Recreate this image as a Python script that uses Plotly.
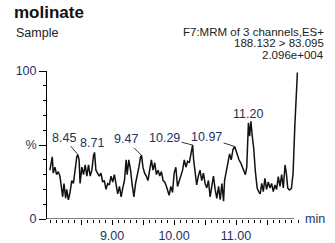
import plotly.graph_objects as go

# ---- data ----
time_min = [7.997, 8.035, 8.051, 8.078, 8.105, 8.132, 8.159, 8.186, 8.203, 8.224,
            8.251, 8.268, 8.295, 8.322, 8.349, 8.376, 8.403, 8.430, 8.447, 8.468,
            8.484, 8.512, 8.539, 8.566, 8.593, 8.620, 8.647, 8.674, 8.701, 8.717,
            8.739, 8.766, 8.793, 8.821, 8.848, 8.875, 8.902, 8.929, 8.956, 8.983,
            9.010, 9.037, 9.064, 9.091, 9.119, 9.146, 9.173, 9.200, 9.227, 9.243,
            9.270, 9.298, 9.325, 9.352, 9.379, 9.406, 9.433, 9.460, 9.476, 9.498,
            9.525, 9.552, 9.579, 9.606, 9.634, 9.661, 9.688, 9.715, 9.742, 9.769,
            9.796, 9.823, 9.850, 9.877, 9.904, 9.921, 9.948, 9.975, 10.002, 10.029,
            10.056, 10.083, 10.111, 10.138, 10.165, 10.192, 10.219, 10.246, 10.273, 10.300,
            10.316, 10.338, 10.365, 10.392, 10.419, 10.447, 10.474, 10.501, 10.528, 10.555,
            10.582, 10.609, 10.636, 10.663, 10.690, 10.718, 10.745, 10.772, 10.799, 10.815,
            10.842, 10.869, 10.896, 10.923, 10.951, 10.978, 10.994, 11.021, 11.048, 11.075,
            11.102, 11.130, 11.151, 11.173, 11.188, 11.200, 11.220, 11.240, 11.262, 11.285,
            11.310, 11.340, 11.365, 11.390, 11.415, 11.440, 11.466, 11.493, 11.520, 11.547,
            11.574, 11.601, 11.628, 11.655, 11.682, 11.709, 11.736, 11.763, 11.791, 11.812,
            11.834, 11.861, 11.894, 11.921, 11.948, 11.970, 11.990]
intensity_pct = [33, 42, 31, 35, 30, 32, 29, 22, 15, 24,
                 14, 20, 13, 18, 26, 24, 33, 42, 43.5, 40,
                 24, 35, 30, 36.5, 29, 36.5, 29, 33, 43, 45,
                 33, 31, 29, 31, 25, 26, 20, 24, 23, 29,
                 25, 30, 24, 17, 22, 15, 21, 26, 40, 30,
                 40, 33, 23, 15, 24, 29, 35, 42, 43, 35,
                 31, 29, 26, 33, 40, 33, 38, 30, 33, 29,
                 32, 26, 25, 22, 18, 16, 22, 18, 31, 35,
                 22, 26, 30, 33, 40, 35, 39, 38, 44, 50,
                 40, 33, 23, 29, 33, 26, 31, 24, 21, 26,
                 15, 22, 29, 20, 14, 22, 13, 24, 12, 26,
                 33, 40, 44, 40, 47, 49, 47, 43, 40, 38,
                 35, 33, 30, 35, 52, 65, 56, 66, 56, 48,
                 33, 21, 18.5, 17, 24, 18.5, 27.5, 20, 25, 21,
                 24, 18.5, 23, 20, 28.6, 22, 30, 21, 36.5, 31,
                 21, 19.6, 20.7, 31, 62, 89, 99]

peak_labels = ["8.45", "8.71", "9.47", "10.29", "10.97", "11.20"]
peak_times = [8.447, 8.717, 9.476, 10.300, 10.978, 11.200]
peak_heights = [43.5, 45, 43, 50, 49, 65]

x_tick_vals = [8.5, 9.0, 9.5, 10.0, 10.5, 11.0, 11.5]
x_tick_text = ["", "9.00", "", "10.00", "", "11.00", ""]
y_tick_vals = [0, 50, 100]
y_tick_text = ["0", "%", "100"]

FONT = "Liberation Sans, Arial, sans-serif"
NAVY = "#1c3263"
DARK = "#222222"

fig = go.Figure()
fig.add_trace(go.Scatter(x=time_min, y=intensity_pct, mode="lines",
                         line=dict(color="#111111", width=1.5),
                         hoverinfo="skip", showlegend=False))

# x-axis line drawn only to 11.94 like the reference
fig.add_shape(type="line", xref="x", yref="y", x0=7.95, x1=11.94, y0=0, y1=0,
              line=dict(color="black", width=1))

# peak annotations
arrow_offsets = {"8.45": (-14, -17), "9.47": (-16, -16),
                 "10.29": (-28, -7), "10.97": (-28, -9)}
for lab, t, h in zip(peak_labels, peak_times, peak_heights):
    if lab in arrow_offsets:
        ax, ay = arrow_offsets[lab]
        fig.add_annotation(x=t, y=h, text=lab, showarrow=True, arrowhead=0,
                           arrowwidth=1, arrowcolor="#333333", ax=ax, ay=ay,
                           standoff=0, font=dict(family=FONT, size=12.5, color=NAVY))
    else:
        fig.add_annotation(x=t, y=h, text=lab, showarrow=False, yanchor="bottom",
                           xshift=-3 if lab == "8.71" else 0, yshift=0,
                           font=dict(family=FONT, size=12.5, color=NAVY))

# header texts
hdr = dict(family=FONT, size=11.5, color=DARK)
fig.add_annotation(xref="paper", yref="paper", x=-0.1315, y=1.260, text="Sample",
                   showarrow=False, xanchor="left", yanchor="middle",
                   font=dict(family=FONT, size=12.5, color=DARK))
fig.add_annotation(xref="paper", yref="paper", x=1.1116, y=1.2655,
                   text="F7:MRM of 3 channels,ES+", showarrow=False,
                   xanchor="right", yanchor="middle", font=hdr)
fig.add_annotation(xref="paper", yref="paper", x=1.1116, y=1.1872,
                   text="188.132 &gt; 83.095", showarrow=False,
                   xanchor="right", yanchor="middle", font=hdr)
fig.add_annotation(xref="paper", yref="paper", x=1.1116, y=1.1088,
                   text="2.096e+004", showarrow=False,
                   xanchor="right", yanchor="middle", font=hdr)
fig.add_annotation(xref="paper", yref="paper", x=(303 - 47) / 251, y=0, text="min",
                   showarrow=False, xanchor="left", yanchor="middle",
                   font=dict(family=FONT, size=12.5, color=NAVY))

fig.update_layout(
    width=335, height=243,
    margin=dict(l=47, r=37, t=71, b=24),
    paper_bgcolor="white", plot_bgcolor="white",
    title=dict(text="<b>molinate</b>", x=14 / 335, xref="container", xanchor="left",
               y=1 - 12.5 / 243, yref="container", yanchor="middle",
               font=dict(family=FONT, size=17, color="#111111")),
    xaxis=dict(range=[7.95, 12.0], showgrid=False, zeroline=False, showline=False,
               automargin=False,
               tickmode="array", tickvals=x_tick_vals, ticktext=x_tick_text,
               ticks="outside", ticklen=5, tickwidth=1, tickcolor="black",
               minor=dict(dtick=0.1, tick0=8.0, ticks="outside", ticklen=3,
                          tickwidth=1, tickcolor="black", showgrid=False),
               tickfont=dict(family=FONT, size=12.5, color=NAVY)),
    yaxis=dict(range=[0, 100], showgrid=False, zeroline=False, showline=True,
               automargin=False,
               linecolor="black", linewidth=1,
               tickmode="array", tickvals=y_tick_vals, ticktext=y_tick_text,
               ticks="outside", ticklen=7, tickwidth=1, tickcolor="black",
               minor=dict(dtick=10, ticks="outside", ticklen=3, tickwidth=1,
                          tickcolor="black", showgrid=False),
               tickfont=dict(family=FONT, size=12.5, color=NAVY)),
)

fig.write_html("out.html", config={"displayModeBar": False},
               post_script="document.body.style.margin='0';")
